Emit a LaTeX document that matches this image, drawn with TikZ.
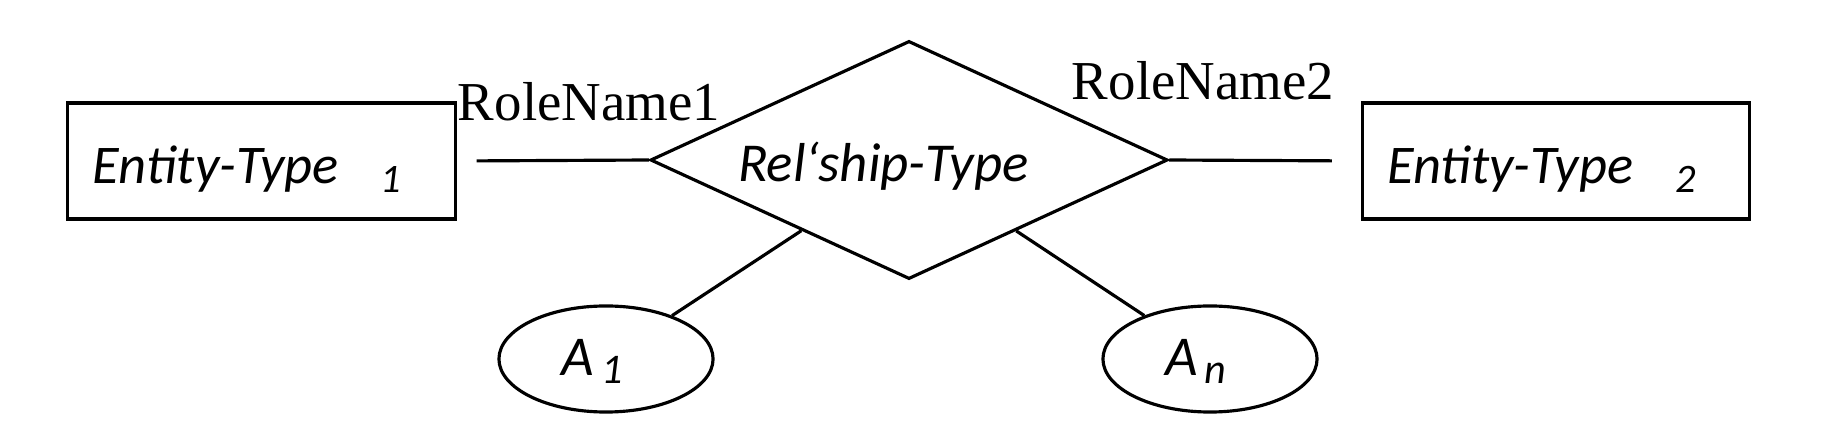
\documentclass[tikz,border=0pt]{standalone}
\usepackage{fontspec}
\setmainfont{Liberation Serif}
\newfontfamily\carlito{Carlito}
\usetikzlibrary{shapes,positioning}

\tikzset{
  entity/.style={draw, rectangle, minimum width=3.87cm, minimum height=1.16cm, inner sep=0pt,
    font=\carlito\itshape\fontsize{15.5}{18}\selectfont},
  relship/.style={draw, diamond, aspect=2.17, minimum width=5.17cm, minimum height=2.38cm, inner sep=0pt,
    font=\carlito\itshape\fontsize{15.6}{18}\selectfont},
  attrib/.style={draw, ellipse, minimum width=2.14cm, minimum height=1.06cm, inner sep=0pt,
    font=\carlito\itshape\fontsize{16}{19}\selectfont},
  role/.style={font=\fontsize{15.6}{18}\selectfont, inner sep=0pt}
}

\begin{document}
\begin{tikzpicture}[x=0.01cm, y=-0.01cm, line width=0.9pt]
\useasboundingbox (0,0) rectangle (1830,440);

% Entity types
\node[entity] (ent1) at (261.5,161) {\smash{\raisebox{-0.22cm}{Entity-Type\hspace{0.42cm}\raisebox{-0.09cm}{\fontsize{11.5}{13}\selectfont 1}}}\kern0.29cm};
\node[entity] (ent2) at (1556,161) {\smash{\raisebox{-0.22cm}{Entity-Type\hspace{0.42cm}\raisebox{-0.09cm}{\fontsize{11.5}{13}\selectfont 2}}}\kern0.29cm};

% Relationship type
\node[relship] (rel) at (909,160) {\smash{\raisebox{-0.21cm}{Rel‘ship-Type}}\kern0.51cm};

% Attributes
\node[attrib] (a1) at (606,359) {\smash{\raisebox{-0.16cm}{A\hspace{0.07cm}\raisebox{-0.08cm}{\fontsize{12}{14}\selectfont 1}}}\kern0.28cm};
\node[attrib] (an) at (1210,359) {\smash{\raisebox{-0.16cm}{A\hspace{0.07cm}\raisebox{-0.08cm}{\fontsize{12}{14}\selectfont n}}}\kern0.28cm};

% Role names
\node[role] (role1) at (589,102) {RoleName1};
\node[role] (role2) at (1203,81) {RoleName2};

% Connectors
\draw[shorten <=0.2cm] (ent1.east) -- (rel.west);
\draw[shorten <=0.29cm] (ent2.west) -- (rel.east);
\draw (rel) -- (a1);
\draw (rel) -- (an);

\end{tikzpicture}
\end{document}
